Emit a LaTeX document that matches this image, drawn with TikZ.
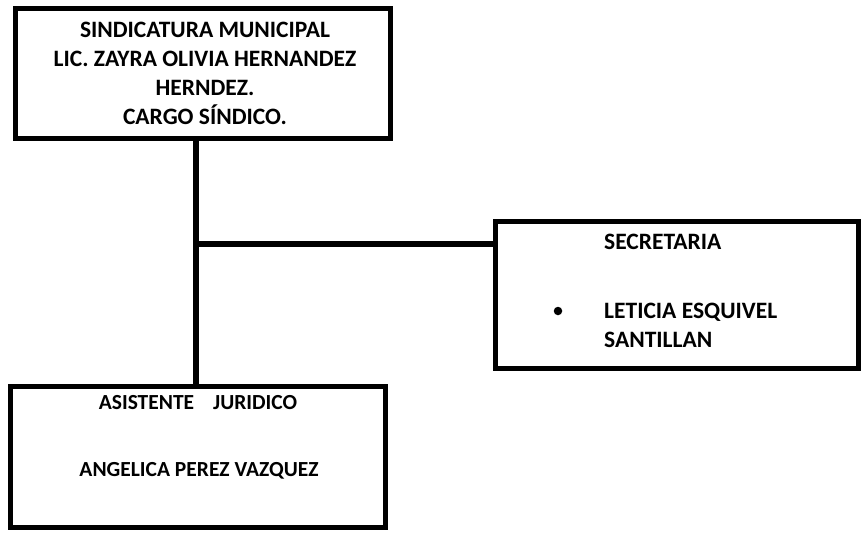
\documentclass[tikz,border=0pt]{standalone}
\usepackage{fontspec}
\setmainfont{Carlito}
\begin{document}
\begin{tikzpicture}[x=1pt,y=-1pt,
  box/.style={draw=black,line width=5pt,inner sep=0pt},
  conn/.style={line width=5.5pt},
  lbl/.style={font=\bfseries\fontsize{23.5}{29}\selectfont,inner sep=0pt,align=center},
  lblb/.style={font=\bfseries\fontsize{21.5}{28}\selectfont,inner sep=0pt,align=center}]
\useasboundingbox (0,0) rectangle (861,533);
% boxes
\node[box,minimum width=375pt,minimum height=130pt] (top) at (202.5,73) {};
\node[box,minimum width=363pt,minimum height=147pt] (sec) at (677,294.5) {};
\node[box,minimum width=375pt,minimum height=141pt] (bot) at (197.5,456.5) {};
% texts
\node[lbl,anchor=center] (t1) at (205,73) {SINDICATURA MUNICIPAL\\LIC. ZAYRA OLIVIA HERNANDEZ\\HERNDEZ.\\CARGO SÍNDICO.};
\node[lbl,anchor=west] (s1) at (604,242) {SECRETARIA};
\node[circle,fill=black,inner sep=0pt,minimum size=8.5pt] (bul) at (558,311) {};
\node[lbl,anchor=west,align=left] (s2) at (604,325) {LETICIA ESQUIVEL\\SANTILLAN};
\node[lblb] (b1) at (198,403) {ASISTENTE\hspace{19pt}JURIDICO};
\node[lblb] (b2) at (199,471) {ANGELICA PEREZ VAZQUEZ};
% connectors
\coordinate (v) at (196,0);
\coordinate (h) at (0,244);
\draw[conn] (top.south -| v) -- (bot.north -| v);
\draw[conn] (v |- h) -- (sec.west |- h);
\end{tikzpicture}
\end{document}
